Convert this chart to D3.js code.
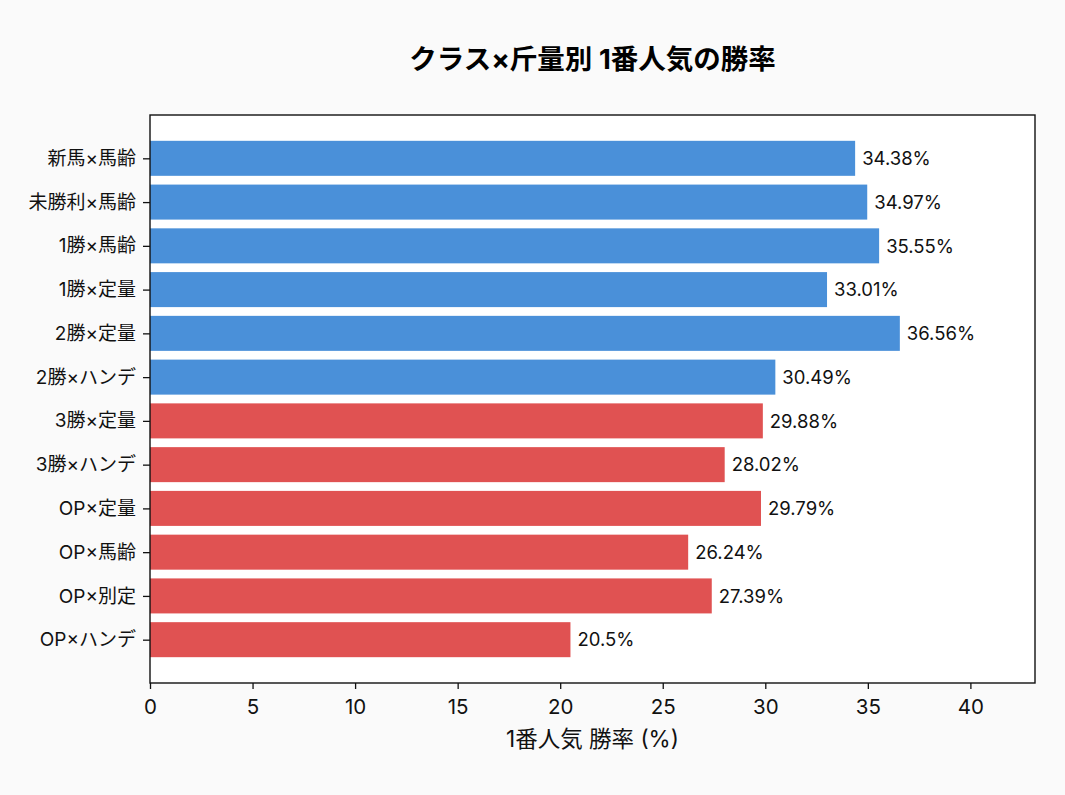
<!DOCTYPE html>
<html><head><meta charset="utf-8">
<script src="https://cdn.jsdelivr.net/npm/d3@7"></script>
<style>body{margin:0;background:#fafafa;}svg{display:block;font-family:Inter,"Noto Sans CJK JP",sans-serif;}</style>
</head><body><svg id="c" width="1065" height="795"></svg>
<script>
const categories = ["新馬×馬齢","未勝利×馬齢","1勝×馬齢","1勝×定量","2勝×定量","2勝×ハンデ","3勝×定量","3勝×ハンデ","OP×定量","OP×馬齢","OP×別定","OP×ハンデ"];
const winRates = [34.38,34.97,35.55,33.01,36.56,30.49,29.88,28.02,29.79,26.24,27.39,20.5];
const groups = ["low","low","low","low","low","low","high","high","high","high","high","high"];
const xTicks = [0,5,10,15,20,25,30,35,40];
const colors = {low:"#4a90d9", high:"#e05252"};
const FF = 'Inter,"Noto Sans CJK JP",sans-serif';

const svg = d3.select("#c");
const L=150,R=1035,T=115,B=683;
svg.append("rect").attr("x",L).attr("y",T).attr("width",R-L).attr("height",B-T).attr("fill","#fff");
const x = d3.scaleLinear().domain([0,43.15]).range([L,R]);
const n = categories.length;
const y = d3.scaleLinear().domain([-0.4-0.59, n-1+0.4+0.59]).range([T,B]);
const bh = y(0.4)-y(-0.4);

svg.append("g").selectAll("rect").data(categories).join("rect")
  .attr("x",x(0)).attr("y",(d,i)=>y(i)-bh/2).attr("height",bh)
  .attr("width",(d,i)=>x(winRates[i])-x(0)).attr("fill",(d,i)=>colors[groups[i]]);

svg.append("g").selectAll("text").data(categories).join("text")
  .attr("x",(d,i)=>x(winRates[i])+7).attr("y",(d,i)=>y(i)).attr("dy","0.36em")
  .attr("font-size",18.5).attr("fill","#111").attr("font-family",FF).text((d,i)=>winRates[i]+"%");

const xa = svg.append("g").attr("transform",`translate(0,${B})`)
  .call(d3.axisBottom(x).tickValues(xTicks).tickSize(6).tickPadding(10).tickFormat(d3.format("d")));
xa.select(".domain").remove();
xa.selectAll("text").attr("font-size",20.5).attr("fill","#111").attr("font-family",FF);
xa.selectAll("line").attr("stroke","#111").attr("stroke-width",1.3);

const ya = svg.append("g").attr("transform",`translate(${L},0)`)
  .call(d3.axisLeft(y).tickValues(d3.range(n)).tickSize(7).tickPadding(7).tickFormat(i=>categories[i]));
ya.select(".domain").remove();
ya.selectAll("text").attr("font-size",19).attr("fill","#111").attr("font-family",FF);
ya.selectAll("line").attr("stroke","#111").attr("stroke-width",1.3);

svg.append("rect").attr("x",L).attr("y",T).attr("width",R-L).attr("height",B-T)
  .attr("fill","none").attr("stroke","#111").attr("stroke-width",1.4);

svg.append("text").attr("x",(L+R)/2).attr("y",747).attr("text-anchor","middle")
  .attr("font-size",22.5).attr("fill","#111").attr("font-family",FF).text("1番人気 勝率 (%)");
svg.append("text").attr("x",(L+R)/2).attr("y",69).attr("text-anchor","middle")
  .attr("font-size",27.5).attr("font-weight","bold").attr("fill","#000").attr("font-family",FF).text("クラス×斤量別 1番人気の勝率");
</script></body></html>
